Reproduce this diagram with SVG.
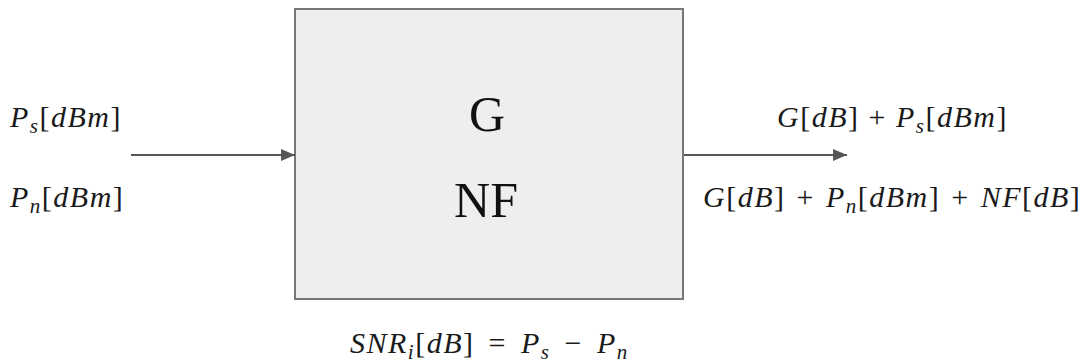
<svg xmlns="http://www.w3.org/2000/svg" width="1088" height="363" viewBox="0 0 1088 363">
<style>
.m{font-size:30px;fill:#1a1a1a;letter-spacing:1.5px}
.sub{font-size:21px}
.big{font-size:50px;fill:#111;text-anchor:middle}
.conn{stroke:#555;stroke-width:2;fill:none}
</style>
<defs>
<marker id="ah" markerWidth="14" markerHeight="12" refX="14" refY="6" orient="auto" markerUnits="userSpaceOnUse" viewBox="0 0 14 12">
<path d="M0,0 L14,6 L0,12 z" fill="#555"/>
</marker>
</defs>
<g id="block">
<rect x="295" y="9" width="388" height="290" fill="#eeeeee" stroke="#777" stroke-width="2"/>
<text class="big" font-family="Liberation Serif, serif" x="487" y="131">G</text>
<text class="big" font-family="Liberation Serif, serif" x="486" y="217">NF</text>
</g>
<g id="connectors">
<line class="conn" x1="131" y1="155" x2="295" y2="155" marker-end="url(#ah)"/>
<line class="conn" x1="684" y1="155" x2="847" y2="155" marker-end="url(#ah)"/>
</g>
<g id="input-labels" font-family="Liberation Serif, serif">
<text class="m" x="10" y="127" letter-spacing="2.2"><tspan font-style="italic">P</tspan><tspan class="sub" font-style="italic" dy="6">s</tspan><tspan dy="-6">[</tspan><tspan font-style="italic">dBm</tspan>]</text>
<text class="m" x="10" y="207" letter-spacing="2.2"><tspan font-style="italic">P</tspan><tspan class="sub" font-style="italic" dy="6">n</tspan><tspan dy="-6">[</tspan><tspan font-style="italic">dBm</tspan>]</text>
</g>
<g id="output-labels" font-family="Liberation Serif, serif">
<text class="m" x="777" y="127"><tspan font-style="italic">G</tspan>[<tspan font-style="italic">dB</tspan>] + <tspan font-style="italic">P</tspan><tspan class="sub" font-style="italic" dy="6">s</tspan><tspan dy="-6">[</tspan><tspan font-style="italic">dBm</tspan>]</text>
<text class="m" x="703" y="207" word-spacing="2"><tspan font-style="italic">G</tspan>[<tspan font-style="italic">dB</tspan>] + <tspan font-style="italic">P</tspan><tspan class="sub" font-style="italic" dy="6">n</tspan><tspan dy="-6">[</tspan><tspan font-style="italic">dBm</tspan>] + <tspan font-style="italic">NF</tspan>[<tspan font-style="italic">dB</tspan>]</text>
</g>
<g id="snr-label" font-family="Liberation Serif, serif">
<text class="m" x="350" y="353" word-spacing="5"><tspan font-style="italic">SNR</tspan><tspan class="sub" font-style="italic" dy="6">i</tspan><tspan dy="-6">[</tspan><tspan font-style="italic">dB</tspan>] = <tspan font-style="italic">P</tspan><tspan class="sub" font-style="italic" dy="6">s</tspan><tspan dy="-6"> − </tspan><tspan font-style="italic">P</tspan><tspan class="sub" font-style="italic" dy="6">n</tspan></text>
</g>
</svg>
